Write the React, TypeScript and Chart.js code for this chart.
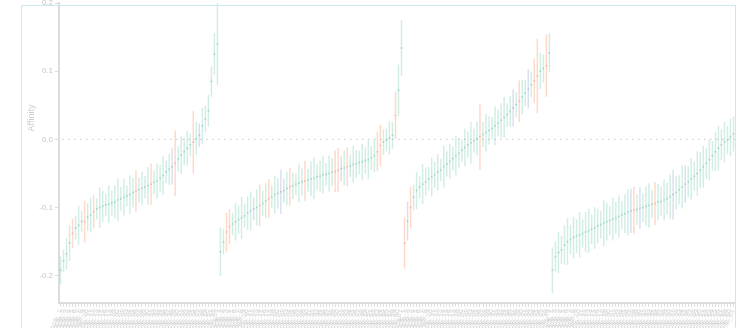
import React, { useEffect, useRef } from 'react';
import { Chart, registerables } from 'chart.js';

Chart.register(...registerables);

// ---- Data ----
const G1_CENTER = [-0.192,-0.178,-0.168,-0.152,-0.138,-0.13,-0.126,-0.12,-0.121,-0.114,-0.111,-0.106,-0.102,-0.1,-0.098,-0.096,-0.095,-0.093,-0.092,-0.089,-0.087,-0.085,-0.083,-0.081,-0.078,-0.076,-0.074,-0.072,-0.07,-0.068,-0.066,-0.063,-0.061,-0.057,-0.053,-0.048,-0.044,-0.04,-0.035,-0.029,-0.023,-0.018,-0.013,-0.008,-0.004,0.001,0.006,0.02,0.03,0.042,0.085,0.125,0.14];
const G1_ERR = [0.02,0.016,0.022,0.026,0.021,0.017,0.028,0.015,0.03,0.02,0.025,0.024,0.015,0.029,0.022,0.016,0.027,0.018,0.024,0.031,0.017,0.026,0.015,0.028,0.021,0.03,0.018,0.024,0.016,0.027,0.03,0.017,0.025,0.019,0.028,0.016,0.022,0.026,0.048,0.018,0.027,0.02,0.025,0.016,0.045,0.024,0.017,0.026,0.019,0.023,0.022,0.03,0.06];
const G1_TYPE = [0,0,0,0,1,0,0,0,1,0, 0,1,0,0,0,0,0,0,0,0, 0,0,0,0,0,1,0,0,0,0, 1,0,0,0,0,0,0,2,1,0, 0,0,0,0,1,0,2,0,0,0, 0,0,0];

const G2_CENTER = [-0.165,-0.15,-0.136,-0.128,-0.124,-0.121,-0.118,-0.115,-0.112,-0.108,-0.105,-0.102,-0.1,-0.097,-0.094,-0.09,-0.087,-0.084,-0.081,-0.079,-0.077,-0.075,-0.072,-0.07,-0.068,-0.066,-0.064,-0.062,-0.061,-0.06,-0.058,-0.057,-0.055,-0.054,-0.052,-0.051,-0.05,-0.048,-0.047,-0.045,-0.043,-0.042,-0.04,-0.039,-0.037,-0.036,-0.034,-0.033,-0.031,-0.03,-0.027,-0.024,-0.018,-0.009,-0.004,-0.001,0.002,0.006,0.035,0.072,0.134];
const G2_ERR = [0.035,0.018,0.028,0.025,0.016,0.027,0.02,0.03,0.017,0.024,0.028,0.016,0.026,0.03,0.018,0.025,0.028,0.016,0.027,0.022,0.032,0.017,0.024,0.027,0.019,0.015,0.028,0.02,0.029,0.016,0.025,0.03,0.018,0.022,0.027,0.016,0.026,0.02,0.03,0.032,0.018,0.025,0.028,0.016,0.027,0.02,0.017,0.026,0.019,0.028,0.017,0.024,0.028,0.03,0.018,0.016,0.024,0.019,0.035,0.037,0.04];
const G2_TYPE = [0,0,1,1,0,0,0,0,0,0, 0,2,0,1,0,0,1,0,0,0, 2,2,0,1,0,0,0,0,1,0, 0,0,0,0,0,0,0,0,1,1, 2,0,1,0,0,0,0,0,0,0, 0,0,1,1,0,0,0,0,1,0,0];

const G3_CENTER = [-0.152,-0.12,-0.1,-0.085,-0.075,-0.07,-0.066,-0.062,-0.058,-0.055,-0.052,-0.048,-0.045,-0.04,-0.036,-0.032,-0.028,-0.024,-0.02,-0.016,-0.012,-0.008,-0.005,-0.002,0.001,0.004,0.007,0.01,0.013,0.016,0.02,0.024,0.028,0.032,0.036,0.041,0.046,0.051,0.056,0.062,0.068,0.074,0.08,0.086,0.093,0.1,0.104,0.108,0.127];
const G3_ERR = [0.037,0.028,0.03,0.018,0.027,0.016,0.029,0.02,0.017,0.028,0.019,0.026,0.016,0.03,0.018,0.025,0.017,0.028,0.021,0.016,0.027,0.019,0.03,0.017,0.024,0.048,0.018,0.027,0.02,0.016,0.028,0.019,0.025,0.03,0.017,0.022,0.027,0.018,0.03,0.025,0.019,0.028,0.018,0.032,0.054,0.026,0.02,0.045,0.028];
const G3_TYPE = [1,2,1,0,0,0,0,0,0,0, 0,0,0,0,0,0,0,0,0,0, 0,0,0,0,0,1,0,0,0,0, 0,0,0,0,0,0,2,0,1,0, 0,2,0,1,1,0,0,1,0];

const G4_CENTER = [-0.192,-0.172,-0.166,-0.162,-0.155,-0.15,-0.147,-0.144,-0.142,-0.14,-0.138,-0.136,-0.134,-0.132,-0.13,-0.127,-0.125,-0.123,-0.121,-0.119,-0.117,-0.115,-0.113,-0.111,-0.109,-0.107,-0.105,-0.104,-0.103,-0.101,-0.1,-0.098,-0.097,-0.095,-0.094,-0.092,-0.091,-0.089,-0.087,-0.084,-0.081,-0.078,-0.074,-0.07,-0.066,-0.062,-0.058,-0.054,-0.05,-0.045,-0.04,-0.035,-0.03,-0.024,-0.018,-0.013,-0.008,-0.004,-0.001,0.003,0.008];
const G4_ERR = [0.033,0.022,0.03,0.02,0.028,0.034,0.021,0.03,0.024,0.033,0.02,0.029,0.032,0.021,0.03,0.025,0.02,0.033,0.027,0.021,0.031,0.023,0.03,0.02,0.028,0.033,0.032,0.034,0.022,0.03,0.021,0.028,0.032,0.02,0.031,0.026,0.021,0.03,0.023,0.032,0.036,0.024,0.021,0.031,0.027,0.022,0.03,0.021,0.032,0.026,0.03,0.022,0.029,0.021,0.028,0.032,0.022,0.029,0.02,0.027,0.025];
const G4_TYPE = [0,0,0,0,0,0,0,0,0,0, 0,0,0,0,0,0,0,0,0,0, 0,0,0,0,0,0,2,1,0,2, 0,0,0,0,1,0,0,0,0,0, 2,0,0,0,2,0,0,0,0,0, 0,0,0,0,0,0,0,0,0,0,0];

const GROUP_PREFIXES = ['A', 'B', 'C', 'D'];
const Y_MIN = -0.24;
const Y_MAX = 0.2;
const Y_TITLE = 'Affinity';

const TYPE_COLORS = ['rgba(102,194,165,0.3)', 'rgba(252,141,98,0.34)', 'rgba(141,160,203,0.34)'];
const POINT_COLORS = ['rgba(102,194,165,0.45)', 'rgba(252,141,98,0.45)', 'rgba(141,160,203,0.45)'];

const CANVAS_W = 743;
const CANVAS_H = 360;
const CANVAS_TOP = -20;

const zeroLinePlugin = {
  id: 'zeroLine',
  beforeDatasetsDraw(chart: any) {
    const { ctx, chartArea, scales } = chart;
    const y = scales.y.getPixelForValue(0);
    ctx.save();
    ctx.strokeStyle = '#d2d2d2';
    ctx.lineWidth = 1.2;
    ctx.setLineDash([1.5, 4.5]);
    ctx.beginPath();
    ctx.moveTo(chartArea.left + 3, y);
    ctx.lineTo(chartArea.right, y);
    ctx.stroke();
    ctx.restore();
  },
};

const yTitlePlugin = {
  id: 'yTitle',
  afterDraw(chart: any) {
    const { ctx } = chart;
    ctx.save();
    ctx.translate(32, 118 - CANVAS_TOP);
    ctx.rotate(-Math.PI / 2);
    ctx.font = '9px "Liberation Sans", Arial, sans-serif';
    ctx.fillStyle = '#cdcdcd';
    ctx.textAlign = 'center';
    ctx.textBaseline = 'middle';
    ctx.fillText(Y_TITLE, 0, 0);
    ctx.restore();
  },
};

export default function App() {
  const ref = useRef<HTMLCanvasElement>(null);

  useEffect(() => {
    const centers = [...G1_CENTER, ...G2_CENTER, ...G3_CENTER, ...G4_CENTER];
    const errs = [...G1_ERR, ...G2_ERR, ...G3_ERR, ...G4_ERR];
    const types = [...G1_TYPE, ...G2_TYPE, ...G3_TYPE, ...G4_TYPE];
    const groups = [G1_CENTER, G2_CENTER, G3_CENTER, G4_CENTER];
    const labels: string[] = [];
    groups.forEach((g, gi) => g.forEach((_, i) => labels.push(`${GROUP_PREFIXES[gi]}_sample_${i + 1}`)));
    const colors = types.map((t) => TYPE_COLORS[t]);
    const pColors = types.map((t) => POINT_COLORS[t]);

    Chart.defaults.font.family = '"Liberation Sans", Arial, sans-serif';

    const chart = new Chart(ref.current as HTMLCanvasElement, {
      type: 'bar',
      data: {
        labels,
        datasets: [
          {
            type: 'bar',
            data: centers.map((c, i) => [c - errs[i], c + errs[i]]) as any,
            backgroundColor: colors,
            borderWidth: 0,
            barThickness: 0.8,
            grouped: false,
            order: 2,
          } as any,
          {
            type: 'line',
            data: centers,
            showLine: false,
            pointRadius: 1,
            pointBackgroundColor: pColors,
            pointBorderWidth: 0,
            order: 1,
          } as any,
        ],
      },
      options: {
        responsive: false,
        maintainAspectRatio: false,
        animation: false,
        layout: { padding: { top: 23, right: 8, left: 0, bottom: 0 } },
        plugins: { legend: { display: false }, tooltip: { enabled: false } },
        scales: {
          x: {
            offset: true,
            grid: { display: true, drawOnChartArea: false, drawTicks: true, tickLength: 4, color: '#e0e0e0', offset: false },
            border: { color: '#dcdcdc', width: 2 },
            ticks: {
              autoSkip: false,
              minRotation: 65,
              maxRotation: 65,
              font: { size: 7 },
              color: 'rgba(190,190,190,0.6)',
              padding: 1,
            },
            afterFit: (s: any) => { s.height = 37; },
          },
          y: {
            min: Y_MIN,
            max: Y_MAX,
            ticks: {
              stepSize: 0.1,
              includeBounds: false,
              callback: (v: any) => Number(v).toFixed(1),
              color: '#c6c6c6',
              font: { size: 8 },
              padding: 2,
            },
            afterBuildTicks: (s: any) => {
              s.ticks = s.ticks.filter((t: any) => Math.abs(t.value * 10 - Math.round(t.value * 10)) < 1e-6);
            },
            grid: { drawOnChartArea: false, tickLength: 4, color: '#dcdcdc' },
            border: { color: '#dcdcdc', width: 2 },
            afterFit: (s: any) => { s.width = 59; },
          },
        },
      } as any,
      plugins: [zeroLinePlugin, yTitlePlugin],
    });
    return () => chart.destroy();
  }, []);

  return (
    <div style={{ position: 'fixed', left: 0, top: 0, width: 743, height: 328, overflow: 'hidden', background: '#fff' }}>
      <div style={{ position: 'absolute', left: 0, top: CANVAS_TOP, width: CANVAS_W, height: CANVAS_H }}>
        <canvas ref={ref} width={CANVAS_W} height={CANVAS_H} style={{ display: 'block', width: CANVAS_W, height: CANVAS_H }} />
      </div>
      <div
        style={{
          position: 'absolute',
          left: 21,
          top: 5,
          width: 715,
          height: 400,
          boxSizing: 'border-box',
          border: '1.5px solid #cde7f0',
          pointerEvents: 'none',
        }}
      />
    </div>
  );
}
